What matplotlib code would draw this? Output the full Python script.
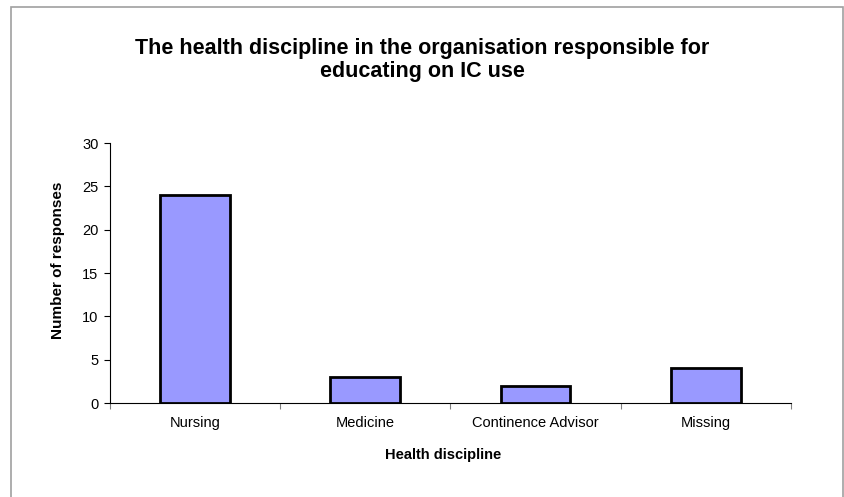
import numpy as np
import matplotlib
matplotlib.use("Agg")
import matplotlib.pyplot as plt
from matplotlib.patches import Rectangle

plt.rcParams["font.family"] = ["Liberation Sans", "DejaVu Sans"]

CATEGORIES = ["Nursing", "Medicine", "Continence Advisor", "Missing"]
RESPONSES = [24, 3, 2, 4]
Y_TICKS = [0, 5, 10, 15, 20, 25, 30]

fig = plt.figure(figsize=(8.44, 4.97), dpi=100)
ax = fig.add_axes([0.130, 0.189, 0.807, 0.523])

x = np.arange(len(CATEGORIES))
ax.bar(x, RESPONSES, width=0.41, color="#9999FF", edgecolor="black", linewidth=2, zorder=3)

ax.set_xlim(-0.5, len(CATEGORIES) - 0.5)
ax.set_ylim(0, 30)
ax.set_yticks(Y_TICKS)
ax.tick_params(axis="y", direction="out", length=4, width=0.8, labelsize=10.5, pad=4)

# boundary ticks between categories, labels centred on the bars
ax.set_xticks(np.arange(len(CATEGORIES) + 1) - 0.5)
ax.set_xticklabels([])
ax.tick_params(axis="x", which="major", direction="out", length=4, width=0.8, color="#808080")
ax.set_xticks(x, minor=True)
ax.set_xticklabels(CATEGORIES, minor=True, fontsize=10.5)
ax.tick_params(axis="x", which="minor", length=0, pad=9)

ax.spines[["top", "right"]].set_visible(False)
ax.spines["left"].set_linewidth(0.8)
ax.spines["bottom"].set_linewidth(0.8)

ax.set_xlabel("Health discipline", fontsize=10.5, fontweight="bold")
ax.xaxis.set_label_coords(0.49, -0.172)
ax.set_ylabel("Number of responses", fontsize=11, fontweight="bold")
ax.yaxis.set_label_coords(-0.066, 0.55)

fig.text(0.5, 0.879, "The health discipline in the organisation responsible for\neducating on IC use",
         ha="center", va="center", fontsize=15.5, fontweight="bold", linespacing=1.15)

# chart area frame
fig.patches.append(Rectangle((11 / 844, -0.01), 832 / 844, 0.985 + 0.01, transform=fig.transFigure,
                             fill=False, edgecolor="#a0a0a0", linewidth=1.2))

fig.savefig("out.png", dpi=100, facecolor="white")
